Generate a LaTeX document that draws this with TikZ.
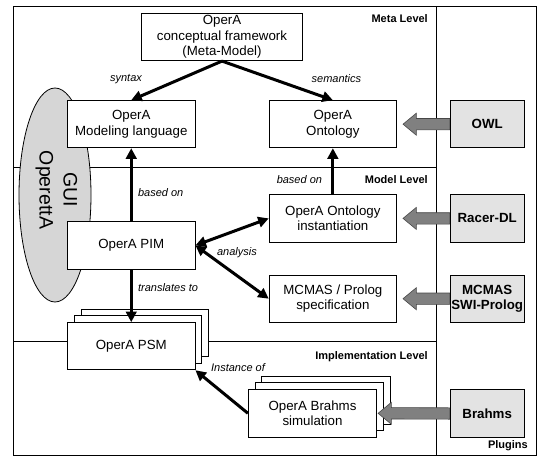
\documentclass[tikz,border=0pt]{standalone}
\usepackage{fontspec}
\setmainfont{Liberation Sans}
\usetikzlibrary{arrows.meta,calc}
\begin{document}
\begin{tikzpicture}[
        x=1pt, y=1pt,
        >={Triangle[length=10.5pt,width=10.5pt]},
        box/.style={rectangle,draw,fill=white,line width=0.8pt,minimum width=127.5pt,minimum height=47.3pt,inner sep=0pt,align=center,font=\fontsize{13.3}{15.4}\selectfont},
        plugin/.style={box,fill=black!11,minimum width=74.3pt,font=\bfseries\fontsize{13.3}{15.4}\selectfont},
        sheet/.style={draw,fill=white,line width=0.8pt},
        level/.style={anchor=east,inner sep=0pt,font=\bfseries\fontsize{11}{13}\selectfont},
        lbl/.style={font=\itshape\fontsize{11}{13}\selectfont},
        link/.style={line width=3pt},
        feed/.style={draw=black!72,fill=black!50,line width=0.6pt,
            to path={($(\tikztostart)+(0,5.7)$) -- ($(\tikztotarget)+(13.3,5.7)$) -- ($(\tikztotarget)+(13.3,11)$) -- (\tikztotarget)
                -- ($(\tikztotarget)+(13.3,-11)$) -- ($(\tikztotarget)+(13.3,-5.7)$) -- ($(\tikztostart)+(0,-5.7)$) -- cycle}}
    ]
        \useasboundingbox (0,0) rectangle (540,456);

        % Frame and levels
        \draw[line width=0.8pt] (13.5,1) rectangle (536.5,450);
        \draw[line width=0.8pt] (436.7,1) -- (436.7,450);
        \draw[line width=0.8pt] (13.5,288.3) -- (436.7,288.3);
        \draw[line width=0.8pt] (13.5,114.3) -- (436.7,114.3);
        \node[level] (meta) at (428,437.7) {Meta Level};
        \node[level] (model) at (428,276) {Model Level};
        \node[level] (impl) at (428,99.3) {Implementation Level};
        \node[level] (plug) at (528,10) {Plugins};

        % GUI
        \draw[line width=0.8pt,fill=black!16] (55,261) ellipse (36 and 107);
        \node[rotate=-90,align=center,font=\fontsize{19.5}{24}\selectfont] (gui) at (56.5,266) {GUI\\OperettA};

        % Stacked copies
        \foreach \s in {13.4,6.7} {
            \draw[sheet] (67.5+\s,86.15+\s) rectangle (195+\s,133.45+\s);
            \draw[sheet] (248.3+\s,18.7+\s) rectangle (376.7+\s,66.7+\s);
        }

        % Models
        \node[box,minimum width=160.6pt,minimum height=47.4pt] (frame) at (222,419) {OperA\\conceptual framework\\(Meta-Model)};
        \node[box] (lang) at (131.25,331.8) {OperA\\Modeling language};
        \node[box] (onto) at (332.85,331.8) {OperA\\Ontology};
        \node[box] (inst) at (332.85,237.6) {OperA Ontology\\instantiation};
        \node[box] (pim) at (131.25,210.6) {OperA PIM};
        \node[box] (spec) at (332.85,157.3) {MCMAS / Prolog\\specification};
        \node[box] (psm) at (131.25,109.8) {OperA PSM};
        \node[box,minimum width=128.4pt,minimum height=48pt] (sim) at (312.5,42.7) {OperA Brahms\\simulation};

        % Plugins
        \node[plugin] (owl) at (487.2,331.8) {OWL};
        \node[plugin] (racer) at (487.2,237.6) {Racer-DL};
        \node[plugin] (mcmas) at (487.2,157.3) {MCMAS\\SWI-Prolog};
        \node[plugin] (brahms) at (487.2,42.5) {Brahms};

        % Relations
        \draw[link,->] (frame.south) -- (lang.north);
        \draw[link,->] (frame.south) -- (onto.north);
        \node[lbl] (syn) at (126,377) {syntax};
        \node[lbl] (sem) at (336.4,377) {semantics};
        \draw[link,->] (pim.north) -- node[lbl,right,pos=0.39,xshift=2pt] (base1) {based on} (lang.south);
        \draw[link,->] (inst.north) -- node[lbl,left,pos=0.32,xshift=-6pt] (base2) {based on} (onto.south);
        \draw[link,<->] (pim.east) -- (inst.west);
        \draw[link,<->] (pim.east) -- (spec.west);
        \node[lbl] (ana) at (237,203) {analysis};
        \draw[link,->] (pim.south) -- node[lbl,right,pos=0.34,xshift=2pt] (trans) {translates to} (psm.north);
        \draw[link,->] (sim.west) -- (psm.south east);
        \node[lbl] (inof) at (238,88.7) {Instance of};

        % Plugin feeds
        \draw[feed] (owl.west) to ([xshift=6pt]onto.east);
        \draw[feed] (racer.west) to ([xshift=6pt]inst.east);
        \draw[feed] (mcmas.west) to ([xshift=6pt]spec.east);
        \draw[feed] (brahms.west) to ([xshift=1pt]sim.east);
    \end{tikzpicture}
\end{document}
